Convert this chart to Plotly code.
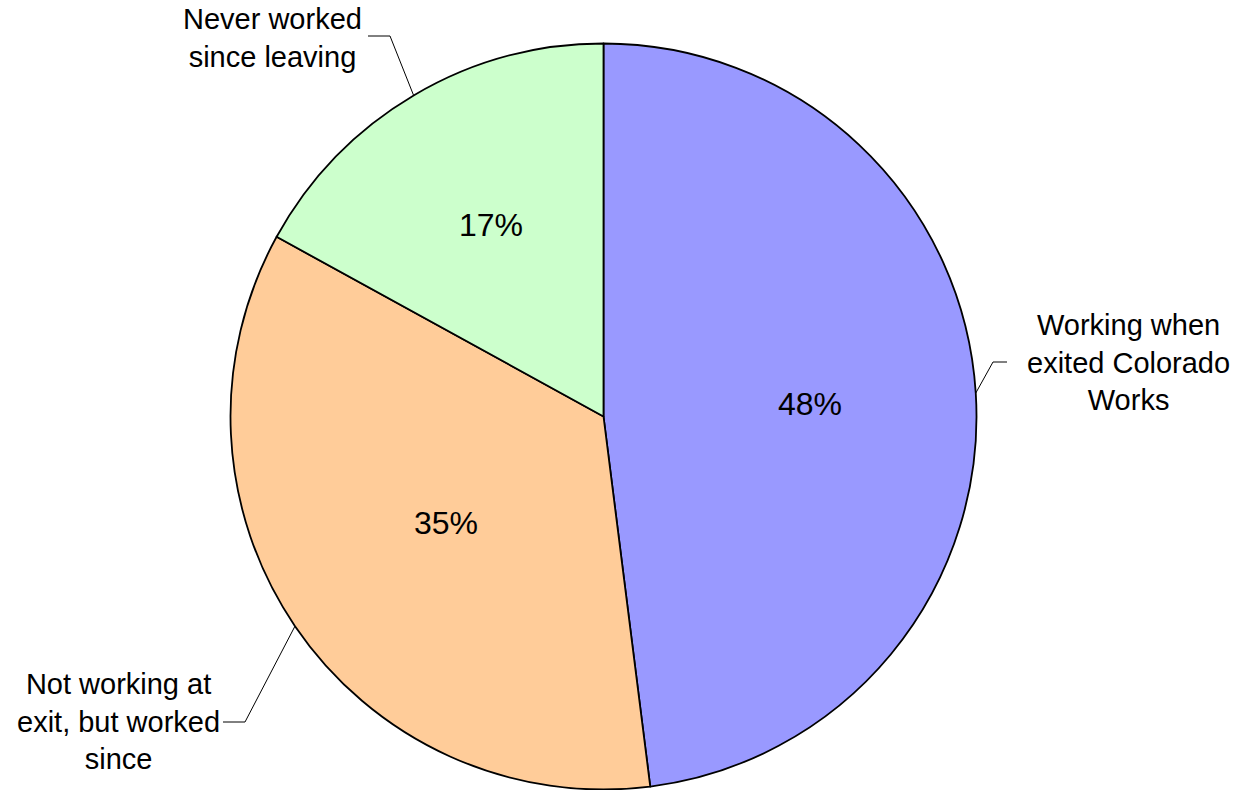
import math
import plotly.graph_objects as go

# Share of Colorado Works leavers by employment status
categories = [
    "Working when<br>exited Colorado<br>Works",
    "Not working at<br>exit, but worked<br>since",
    "Never worked<br>since leaving",
]
shares = [48, 35, 17]
colors = ["#9999FF", "#FFCC99", "#CCFFCC"]

W, H = 1235, 790
CX, CY, R = 603.5, 416.5, 373.0  # pie centre and radius in pixels
FONT = "Liberation Sans, Arial, sans-serif"

# Outside label placement: (label centre x, label centre y, line end x, line end y)
label_layout = [
    (1128, 362, 1007, 362),
    (118, 721, 223, 722),
    (272, 38, 368, 36),
]
ELBOW = [(993, 362), (245, 722), (390, 36)]
# Radial position of each percentage label, as a fraction of the radius
PCT_RADIUS = [0.555, 0.51, 0.595]


def px(x):
    return x / W


def py(y):
    return 1 - y / H


fig = go.Figure(
    go.Pie(
        labels=[c.replace("<br>", " ") for c in categories],
        values=shares,
        sort=False,
        direction="clockwise",
        rotation=0,
        marker=dict(colors=colors, line=dict(color="black", width=1.8)),
        textinfo="none",
        domain=dict(x=[px(CX - R), px(CX + R)], y=[py(CY + R), py(CY - R)]),
        showlegend=False,
        hoverinfo="label+percent",
    )
)

# Percent labels inside, leader lines from each slice's rim to its outside label
total = sum(shares)
start = 0.0
shapes = []
annotations = []
for cat, val, lay, elbow, pr in zip(categories, shares, label_layout, ELBOW, PCT_RADIUS):
    mid = (start + val / 2) / total * 2 * math.pi
    start += val
    sx, sy = math.sin(mid), -math.cos(mid)

    annotations.append(dict(
        text=f"{val}%", xref="paper", yref="paper",
        x=px(CX + pr * R * sx), y=py(CY + pr * R * sy),
        xanchor="center", yanchor="middle", showarrow=False,
        font=dict(family=FONT, size=32, color="black"),
    ))

    ex, ey = CX + R * sx, CY + R * sy
    lx, ly, hx, hy = lay
    bx, by = elbow
    shapes.append(dict(type="line", xref="paper", yref="paper",
                       x0=px(ex), y0=py(ey), x1=px(bx), y1=py(by),
                       line=dict(color="black", width=1)))
    shapes.append(dict(type="line", xref="paper", yref="paper",
                       x0=px(bx), y0=py(by), x1=px(hx), y1=py(hy),
                       line=dict(color="black", width=1)))
    annotations.append(dict(
        text=cat, xref="paper", yref="paper", x=px(lx), y=py(ly),
        xanchor="center", yanchor="middle", align="center", showarrow=False,
        font=dict(family=FONT, size=29, color="black"),
    ))

fig.update_layout(
    width=W, height=H,
    margin=dict(l=0, r=0, t=0, b=0),
    paper_bgcolor="white",
    plot_bgcolor="white",
    shapes=shapes,
    annotations=annotations,
)

fig.write_html("out.html")
